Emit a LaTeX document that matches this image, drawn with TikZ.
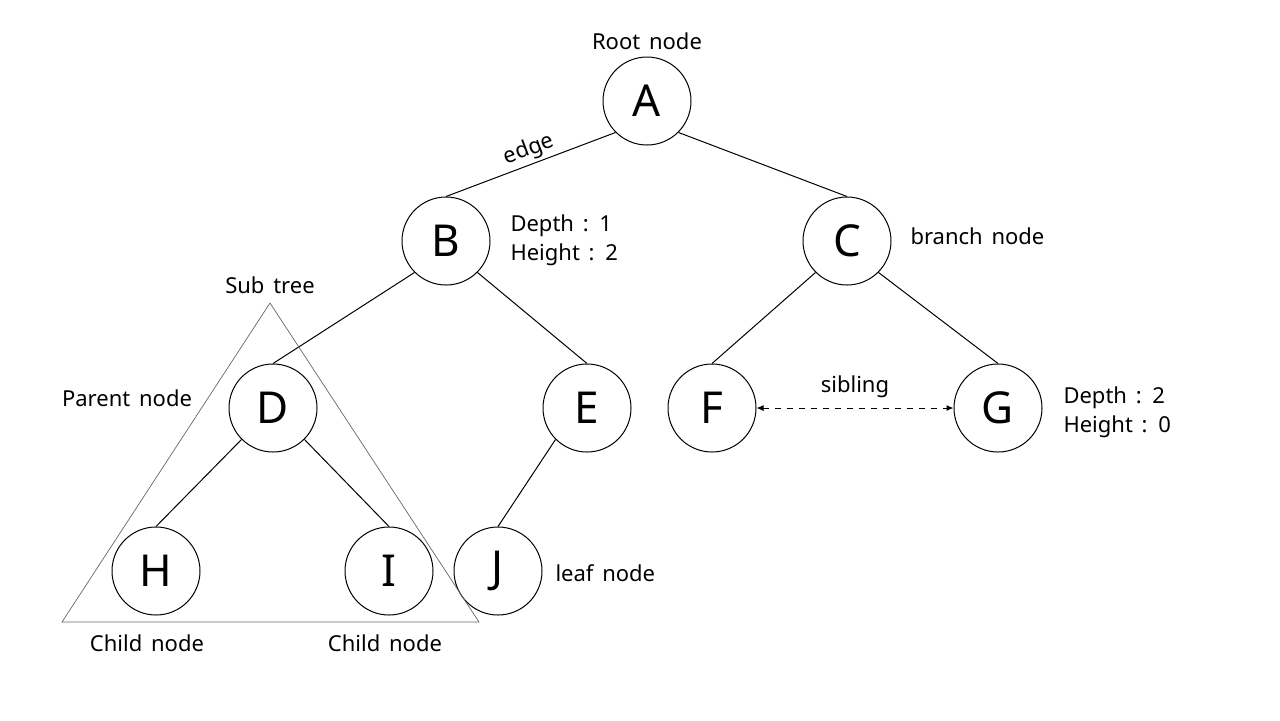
\documentclass[tikz,border=0pt]{standalone}
\usepackage{fontspec}
\setmainfont{Noto Sans}
\usetikzlibrary{arrows.meta}

\newcommand\notefont{\fontsize{11}{14.5}\selectfont
  \spaceskip=0.4em plus 0.1em\relax}

\tikzset{
  treenode/.style={draw, circle, minimum size=44pt, inner sep=0pt,
    font=\fontsize{22}{26}\selectfont},
  note/.style={inner sep=0pt, align=left, font=\notefont},
  subtree/.style={draw=black!60, line width=0.35pt},
}

\begin{document}
\begin{tikzpicture}[x=0.5pt, y=-0.5pt, line width=0.5pt]
    \useasboundingbox (0,0) rectangle (1280,720);
    % the tree
    \node[treenode] (A) at (647,101) {A};
    \node[treenode] (B) at (446,241) {B};
    \node[treenode] (C) at (847,241) {C};
    \node[treenode] (D) at (273,408) {D};
    \node[treenode] (E) at (587,408) {E};
    \node[treenode] (F) at (712,408) {F};
    \node[treenode] (G) at (998,408) {G};
    \node[treenode] (H) at (156,571) {H};
    \node[treenode] (I) at (389,571) {I};
    \node[treenode] (J) at (498,571) {J};
    \draw (A.south west) -- (B.north) node[pos=0.48, sloped, above=1.5pt,
        note]{edge};
    \draw (A.south east) -- (C.north);
    \draw (B.south west) -- (D.north);
    \draw (B.south east) -- (E.north);
    \draw (C.south west) -- (F.north);
    \draw (C.south east) -- (G.north);
    \draw (D.south west) -- (H.north);
    \draw (D.south east) -- (I.north);
    \draw (E.south west) -- (J.north);
    \draw [dashed, {Latex[length=3.5pt,width=3pt]}-{Latex[length=3.5pt,width=3pt]}]
        (F.east) -- (G.west) node[midway, above=5pt, note]{sibling};
    % sub tree
    \coordinate (top) at (270,303);
    \coordinate (left) at (62,622);
    \coordinate (right) at (479,622);
    \draw [subtree] (top) -- (left) -- (right) -- cycle;
    % labels
    \node[note] (root) at (647,41) {Root node};
    \node[note, anchor=west] (depthB) at (510,240) {Depth : 1\\Height : 2};
    \node[note, anchor=west] (branch) at (910,236) {branch node};
    \node[note] (sub) at (270,285) {Sub tree};
    \node[note] (parent) at (127,398) {Parent node};
    \node[note, anchor=west] (depthG) at (1063,412) {Depth : 2\\Height : 0};
    \node[note, anchor=west] (leaf) at (555,573) {leaf node};
    \node[note] (childH) at (147,643) {Child node};
    \node[note] (childI) at (385,643) {Child node};
\end{tikzpicture}
\end{document}
